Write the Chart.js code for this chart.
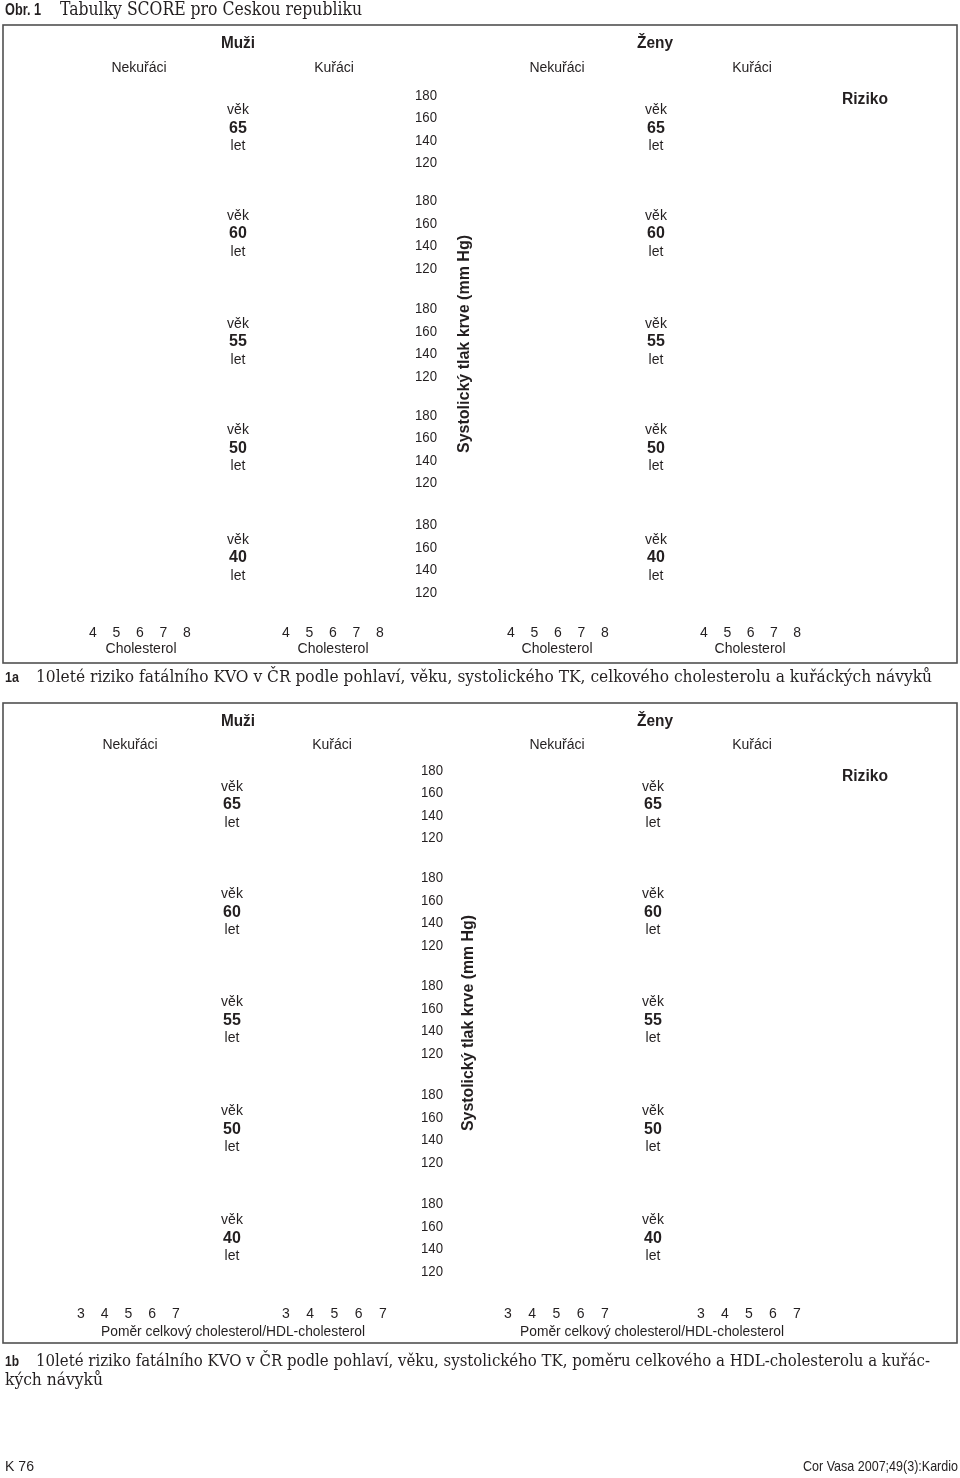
<!DOCTYPE html>
<html>
<head>
<meta charset="utf-8">
<script src="https://cdn.jsdelivr.net/npm/chart.js@4/dist/chart.umd.min.js"></script>
<style>
html,body{margin:0;padding:0;background:#fff;}
canvas{display:block;}
</style>
</head>
<body>
<canvas id="c" width="960" height="1478"></canvas>
<script>
// ---- data ----
const sexes = ['Muži', 'Ženy'];
const smoking = ['Nekuřáci', 'Kuřáci'];
const ageGroups = [65, 60, 55, 50, 40];
const bpTicks = [180, 160, 140, 120];
const cholTicks = [4, 5, 6, 7, 8];
const ratioTicks = [3, 4, 5, 6, 7];
const bpAxisTitle = 'Systolický tlak krve (mm Hg)';
const cholTitle = 'Cholesterol';
const ratioTitle = 'Poměr celkový cholesterol/HDL-cholesterol';
const riskTitle = 'Riziko';
const figTitle = 'Tabulky SCORE pro Českou republiku';
const captionA = '10leté riziko fatálního KVO v ČR podle pohlaví, věku, systolického TK, celkového cholesterolu a kuřáckých návyků';
const captionB1 = '10leté riziko fatálního KVO v ČR podle pohlaví, věku, systolického TK, poměru celkového a HDL-cholesterolu a kuřác-';
const captionB2 = 'kých návyků';

const SANS = '"Liberation Sans", Arial, Helvetica, sans-serif';
const SERIF = '"DejaVu Serif", "Liberation Serif", serif';
const INK = '#231f20';

const drawPlugin = {
  id: 'scoreTemplate',
  afterDraw(chart) {
    const ctx = chart.ctx;
    const sx = chart.scales.x, sy = chart.scales.y;
    const X = v => sx.getPixelForValue(v);
    const Y = v => sy.getPixelForValue(v);

    function txt(s, x, y, font, align, fitW) {
      ctx.save();
      ctx.font = font;
      ctx.fillStyle = INK;
      ctx.textBaseline = 'middle';
      const px = X(x), py = Y(y);
      if (fitW) {
        const w = ctx.measureText(s).width;
        const k = fitW / w;
        ctx.translate(px, py);
        ctx.scale(k, 1);
        ctx.textAlign = align || 'left';
        ctx.fillText(s, 0, 0);
      } else {
        ctx.textAlign = align || 'left';
        ctx.fillText(s, px, py);
      }
      ctx.restore();
    }
    function vtxt(s, x, y, font, fitW) {
      ctx.save();
      ctx.font = font;
      ctx.fillStyle = INK;
      ctx.textBaseline = 'middle';
      ctx.textAlign = 'center';
      ctx.translate(X(x), Y(y));
      ctx.rotate(-Math.PI / 2);
      const w = ctx.measureText(s).width;
      if (fitW) ctx.scale(fitW / w, 1);
      ctx.fillText(s, 0, 0);
      ctx.restore();
    }
    function box(x0, y0, x1, y1) {
      ctx.save();
      ctx.strokeStyle = '#505050';
      ctx.lineWidth = 1.6;
      ctx.strokeRect(X(x0), Y(y0), X(x1) - X(x0), Y(y1) - Y(y0));
      ctx.restore();
    }

    // header
    txt('Obr. 1', 5, 10, 'bold 17px ' + SANS, 'left', 36);
    txt(figTitle, 60, 10, '18px ' + SERIF, 'left', 302);

    function panel(cfg) {
      box(3, cfg.top, 957, cfg.bottom);
      txt(sexes[0], cfg.sexX[0], cfg.sexY, 'bold 16px ' + SANS, 'center', 34);
      txt(sexes[1], cfg.sexX[1], cfg.sexY, 'bold 16px ' + SANS, 'center', 36);
      cfg.smokeX.forEach((sx_, i) => {
        txt(smoking[i % 2], sx_, cfg.smokeY, '14px ' + SANS, 'center');
      });
      txt(riskTitle, 865, cfg.riskY, 'bold 16px ' + SANS, 'center', 46);
      ageGroups.forEach((age, g) => {
        const start = cfg.groupStart[g];
        const step = 22.5;
        bpTicks.forEach((bp, i) => {
          txt(String(bp), cfg.bpX, start + i * step, '14px ' + SANS, 'center', 22);
        });
        const mid = start + step * 1.5 + cfg.ageShift;
        cfg.ageX.forEach(ax => {
          txt('věk', ax, mid - 18, '14px ' + SANS, 'center');
          txt(String(age), ax, mid, 'bold 16px ' + SANS, 'center');
          txt('let', ax, mid + 18, '14px ' + SANS, 'center');
        });
      });
      vtxt(bpAxisTitle, cfg.vX, cfg.vY, 'bold 16px ' + SANS, cfg.vW);
      cfg.tickStarts.forEach((st, p) => {
        cfg.ticks.forEach((t, i) => {
          txt(String(t), st + i * cfg.tickStep[p], cfg.tickY, '14px ' + SANS, 'center');
        });
      });
      cfg.titleX.forEach(tx => {
        txt(cfg.title, tx, cfg.titleY, '14px ' + SANS, 'center', cfg.titleW);
      });
    }

    panel({
      top: 25, bottom: 663,
      sexX: [238, 655], sexY: 44,
      smokeX: [139, 334, 557, 752], smokeY: 68,
      riskY: 100,
      bpX: 426, ageX: [238, 656], ageShift: -1.5,
      groupStart: [96, 201.5, 309.5, 416, 525.5],
      vX: 465, vY: 344, vW: 218,
      ticks: cholTicks, tickStarts: [93, 286, 511, 704], tickStep: [23.5, 23.5, 23.5, 23.3], tickY: 633,
      title: cholTitle, titleX: [141, 333, 557, 750], titleY: 649, titleW: 71
    });
    txt('1a', 5, 678, 'bold 15px ' + SANS, 'left', 14);
    txt(captionA, 36, 678, '16px ' + SERIF, 'left', 896);

    panel({
      top: 703, bottom: 1343,
      sexX: [238, 655], sexY: 722,
      smokeX: [130, 332, 557, 752], smokeY: 745,
      riskY: 777,
      bpX: 432, ageX: [232, 653], ageShift: 0,
      groupStart: [771, 878.5, 986.5, 1095.5, 1204.5],
      vX: 469, vY: 1023, vW: 216,
      ticks: ratioTicks, tickStarts: [81, 286, 508, 701], tickStep: [23.75, 24.25, 24.25, 24],
      tickY: 1314,
      title: ratioTitle, titleX: [233, 652], titleY: 1332, titleW: 264
    });
    txt('1b', 5, 1362, 'bold 15px ' + SANS, 'left', 14);
    txt(captionB1, 36, 1362, '16px ' + SERIF, 'left', 894);
    txt(captionB2, 5, 1381, '16px ' + SERIF, 'left', 98);

    txt('K 76', 5, 1467, '15px ' + SANS, 'left', 29);
    txt('Cor Vasa 2007;49(3):Kardio', 958, 1467, '15px ' + SANS, 'right', 155);
  }
};

new Chart(document.getElementById('c').getContext('2d'), {
  type: 'scatter',
  data: { datasets: [] },
  options: {
    responsive: false,
    animation: false,
    devicePixelRatio: 1,
    layout: { padding: 0 },
    plugins: { legend: { display: false }, tooltip: { enabled: false }, title: { display: false } },
    scales: {
      x: { type: 'linear', min: 0, max: 960, display: false },
      y: { type: 'linear', min: 0, max: 1478, reverse: true, display: false }
    }
  },
  plugins: [drawPlugin]
});
</script>
</body>
</html>
